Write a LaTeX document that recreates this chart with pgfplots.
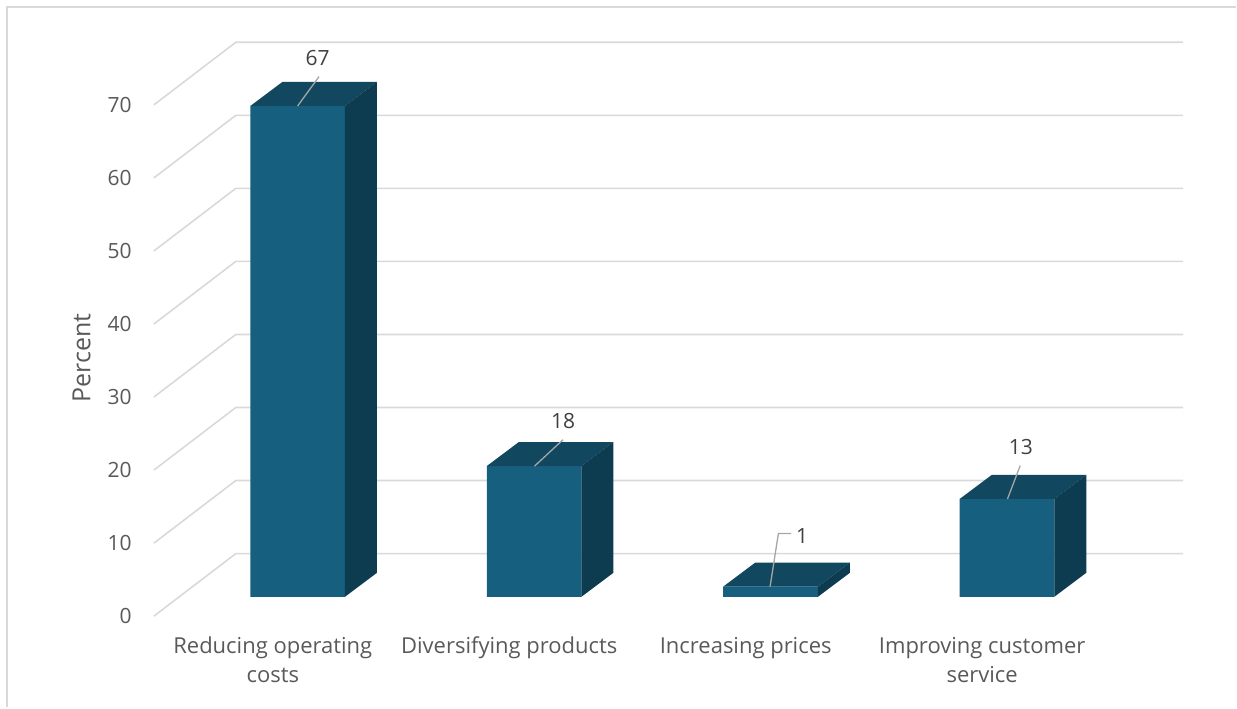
\documentclass[border=0pt]{standalone}
\usepackage{pgfplots}
\pgfplotsset{compat=1.18}
\usepackage{fontspec}
\setmainfont{Open Sans}
\definecolor{frontc}{RGB}{23,95,127}
\definecolor{topc}{RGB}{17,71,95}
\definecolor{sidec}{RGB}{13,59,79}
\definecolor{gridc}{RGB}{217,217,217}
\definecolor{txtc}{RGB}{89,89,89}
\definecolor{lblc}{RGB}{64,64,64}
\definecolor{leadc}{RGB}{166,166,166}
\tikzset{
  mygrid/.style={draw=gridc, line width=1.6pt},
  ticklab/.style={font=\fontsize{21}{25}\selectfont, text=txtc, anchor=east, inner sep=0pt},
  catlab/.style={font=\fontsize{22}{27}\selectfont, text=txtc, anchor=base, inner sep=0pt},
  datalab/.style={font=\fontsize{21}{25}\selectfont, text=lblc, inner sep=0pt},
}
\begin{document}
\begin{tikzpicture}
\begin{axis}[
  width=1237pt, height=708pt, scale only axis,
  xmin=-1.2586, xmax=3.9685, ymin=-15.144, ymax=81.710,
  axis line style={draw=none}, ticks=none, clip=false,
]
% chart border
\draw[gridc, line width=2pt] (axis cs:-1.2278,-15.144) -- (axis cs:-1.2278,80.79) -- (axis cs:3.9685,80.79);
% gridlines: front-left wall diagonal then back wall
\addplot[mygrid, mark=none, forget plot] coordinates {(-0.6079,-2.65) (-0.2614,5.92) (3.7452,5.92)};
\addplot[mygrid, mark=none, forget plot] coordinates {(-0.6079,7.35) (-0.2614,15.92) (3.7452,15.92)};
\addplot[mygrid, mark=none, forget plot] coordinates {(-0.6079,17.35) (-0.2614,25.92) (3.7452,25.92)};
\addplot[mygrid, mark=none, forget plot] coordinates {(-0.6079,27.35) (-0.2614,35.92) (3.7452,35.92)};
\addplot[mygrid, mark=none, forget plot] coordinates {(-0.6079,37.35) (-0.2614,45.92) (3.7452,45.92)};
\addplot[mygrid, mark=none, forget plot] coordinates {(-0.6079,47.35) (-0.2614,55.92) (3.7452,55.92)};
\addplot[mygrid, mark=none, forget plot] coordinates {(-0.6079,57.35) (-0.2614,65.92) (3.7452,65.92)};
\addplot[mygrid, mark=none, forget plot] coordinates {(-0.6079,67.35) (-0.2614,75.92) (3.7452,75.92)};
% tick labels
\node[ticklab] at (axis cs:-0.7008,-2.65) {0};
\node[ticklab] at (axis cs:-0.7008,7.35) {10};
\node[ticklab] at (axis cs:-0.7008,17.35) {20};
\node[ticklab] at (axis cs:-0.7008,27.35) {30};
\node[ticklab] at (axis cs:-0.7008,37.35) {40};
\node[ticklab] at (axis cs:-0.7008,47.35) {50};
\node[ticklab] at (axis cs:-0.7008,57.35) {60};
\node[ticklab] at (axis cs:-0.7008,67.35) {70};
\node[font=\fontsize{25}{30}\selectfont, text=txtc, rotate=90, inner sep=0pt] at (axis cs:-0.9134,32.74) {Percent};
% bars: front faces
\addplot[ybar, bar width=0.4, fill=frontc, draw=none, forget plot] coordinates {(0,67.2) (1,17.9) (2,1.4) (3,13.4)};
% top faces
\addplot[fill=topc, draw=none, mark=none, forget plot] coordinates {(-0.2,67.2) (0.2,67.2) (0.3352,70.483) (-0.0648,70.483)} -- cycle;
\addplot[fill=topc, draw=none, mark=none, forget plot] coordinates {(0.8,17.9) (1.2,17.9) (1.3352,21.183) (0.9352,21.183)} -- cycle;
\addplot[fill=topc, draw=none, mark=none, forget plot] coordinates {(1.8,1.4) (2.2,1.4) (2.3352,4.683) (1.9352,4.683)} -- cycle;
\addplot[fill=topc, draw=none, mark=none, forget plot] coordinates {(2.8,13.4) (3.2,13.4) (3.3352,16.683) (2.9352,16.683)} -- cycle;
% side faces
\addplot[fill=sidec, draw=none, mark=none, forget plot] coordinates {(0.2,0) (0.3352,3.283) (0.3352,70.483) (0.2,67.2)} -- cycle;
\addplot[fill=sidec, draw=none, mark=none, forget plot] coordinates {(1.2,0) (1.3352,3.283) (1.3352,21.183) (1.2,17.9)} -- cycle;
\addplot[fill=sidec, draw=none, mark=none, forget plot] coordinates {(2.2,0) (2.3352,3.283) (2.3352,4.683) (2.2,1.4)} -- cycle;
\addplot[fill=sidec, draw=none, mark=none, forget plot] coordinates {(3.2,0) (3.3352,3.283) (3.3352,16.683) (3.2,13.4)} -- cycle;
% leader lines
\addplot[leadc, line width=1.3pt, mark=none, forget plot] coordinates {(0,67.2) (0.0906,71.22)};
\addplot[leadc, line width=1.3pt, mark=none, forget plot] coordinates {(1.0021,17.9) (1.1227,21.52)};
\addplot[leadc, line width=1.3pt, mark=none, forget plot] coordinates {(1.9981,1.4) (2.0332,8.66) (2.0868,8.66)};
\addplot[leadc, line width=1.3pt, mark=none, forget plot] coordinates {(3.0021,13.4) (3.0558,17.96)};
% data labels
\node[datalab] at (axis cs:0.0851,73.80) {67};
\node[datalab] at (axis cs:1.1227,24.02) {18};
\node[datalab] at (axis cs:2.1333,8.39) {1};
\node[datalab] at (axis cs:3.0587,20.47) {13};
% category labels
\node[catlab] at (axis cs:-0.105,-7.825) {Reducing operating};
\node[catlab] at (axis cs:-0.105,-11.72) {costs};
\node[catlab] at (axis cs:0.895,-7.825) {Diversifying products};
\node[catlab] at (axis cs:1.895,-7.825) {Increasing prices};
\node[catlab] at (axis cs:2.895,-7.825) {Improving customer};
\node[catlab] at (axis cs:2.895,-11.72) {service};
\end{axis}
\end{tikzpicture}
\end{document}
